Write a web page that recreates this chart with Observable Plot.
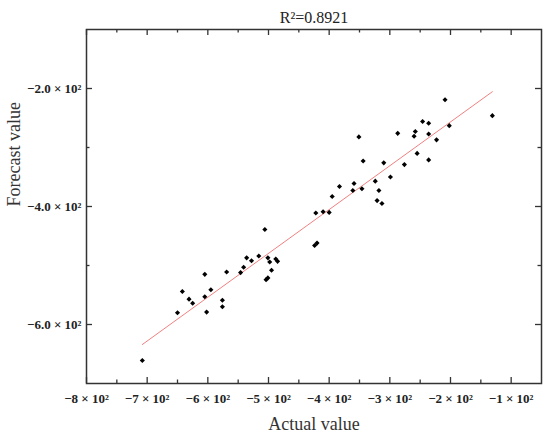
<!DOCTYPE html>
<html><head><meta charset="utf-8">
<script src="https://cdn.jsdelivr.net/npm/d3@7"></script>
<script src="https://cdn.jsdelivr.net/npm/@observablehq/plot@0.6"></script>
<style>body{margin:0;background:#fff} svg{display:block}</style>
</head><body><div id="chart"></div>
<script>
const actual = [-708,-650,-642,-631,-625,-605,-605,-602,-595,-576,-576,-569,-546,-541,-536,-528,-516,-506,-504,-501,-501,-498,-495,-488,-485,-424,-420,-422,-410,-400,-395,-383,-361,-359,-346,-344,-351,-324,-318,-321,-313,-310,-299,-287,-276,-260,-258,-255,-246,-236,-236,-236,-223,-209,-202,-131];
const forecast = [-661,-580,-544,-557,-564,-515,-553,-579,-541,-559,-570,-511,-512,-503,-487,-492,-484,-439,-524,-521,-487,-494,-508,-489,-493,-466,-462,-411,-409,-410,-383,-366,-373,-361,-370,-323,-282,-357,-373,-390,-395,-326,-350,-276,-329,-281,-273,-310,-256,-259,-277,-321,-287,-219,-263,-246];
const title = "R²=0.8921";
const xLabel = "Actual value";
const yLabel = "Forecast value";
const xMajorTicks = [-800,-700,-600,-500,-400,-300,-200,-100];
const xMinorTicks = [-750,-650,-550,-450,-350,-250,-150];
const yMajorTicks = [-600,-400,-200];
const yMinorTicks = [-500,-300];

const data = actual.map((a, i) => ({actual: a, forecast: forecast[i]}));
const W = 550, H = 440, mL = 86, mR = 9, mT = 29, mB = 57;
const fh = H - mT - mB, fw = W - mL - mR;
const fmtX = d => `−${Math.abs(d) / 100} × 10²`;
const fmtY = d => `−${(Math.abs(d) / 100).toFixed(1)} × 10²`;
const tc = "#333";
const serif = "'Liberation Serif', 'Times New Roman', serif";

const chart = Plot.plot({
  width: W, height: H,
  marginLeft: mL, marginRight: mR, marginTop: mT, marginBottom: mB,
  style: {fontFamily: serif, background: "#fff", color: "#222"},
  x: {domain: [-800, -50]},
  y: {domain: [-700, -100]},
  marks: [
    Plot.linearRegressionY(data, {x: "actual", y: "forecast", stroke: "#f28080", strokeWidth: 1, ci: 0}),
    Plot.dot(data, {x: "actual", y: "forecast", symbol: "diamond2", r: 2.3, fill: "#000", stroke: "none"}),
    Plot.frame({stroke: tc, strokeWidth: 1.5}),
    Plot.tickX(xMajorTicks, {x: d => d, insetTop: fh - 6, stroke: tc, strokeWidth: 1.3}),
    Plot.tickX(xMajorTicks, {x: d => d, insetBottom: fh - 6, stroke: tc, strokeWidth: 1.3}),
    Plot.tickX(xMinorTicks, {x: d => d, insetTop: fh - 3.5, stroke: tc, strokeWidth: 1.3}),
    Plot.tickX(xMinorTicks, {x: d => d, insetBottom: fh - 3.5, stroke: tc, strokeWidth: 1.3}),
    Plot.tickY(yMajorTicks, {y: d => d, insetRight: fw - 6, stroke: tc, strokeWidth: 1.3}),
    Plot.tickY(yMajorTicks, {y: d => d, insetLeft: fw - 6, stroke: tc, strokeWidth: 1.3}),
    Plot.tickY(yMinorTicks, {y: d => d, insetRight: fw - 3.5, stroke: tc, strokeWidth: 1.3}),
    Plot.tickY(yMinorTicks, {y: d => d, insetLeft: fw - 3.5, stroke: tc, strokeWidth: 1.3}),
    Plot.axisX(xMajorTicks, {tickSize: 0, tickPadding: 10, tickFormat: fmtX, fontSize: 13, fontFamily: serif, fontWeight: "bold", fill: "#222", label: null}),
    Plot.axisY(yMajorTicks, {tickSize: 0, tickPadding: 5, tickFormat: fmtY, fontSize: 13, fontFamily: serif, fontWeight: "bold", fill: "#222", label: null}),
    Plot.text([xLabel], {text: d => d, frameAnchor: "bottom", lineAnchor: "middle", dy: 41, fontSize: 18, fontFamily: serif, fill: "#333"}),
    Plot.text([yLabel], {text: d => d, frameAnchor: "left", lineAnchor: "middle", dx: -72, rotate: -90, fontSize: 18, fontFamily: serif, fill: "#333"}),
    Plot.text([title], {text: d => d, frameAnchor: "top", lineAnchor: "middle", dy: -12, fontSize: 16, fontFamily: serif, fill: "#222"})
  ]
});
document.getElementById("chart").appendChild(chart);
</script>
</body></html>
